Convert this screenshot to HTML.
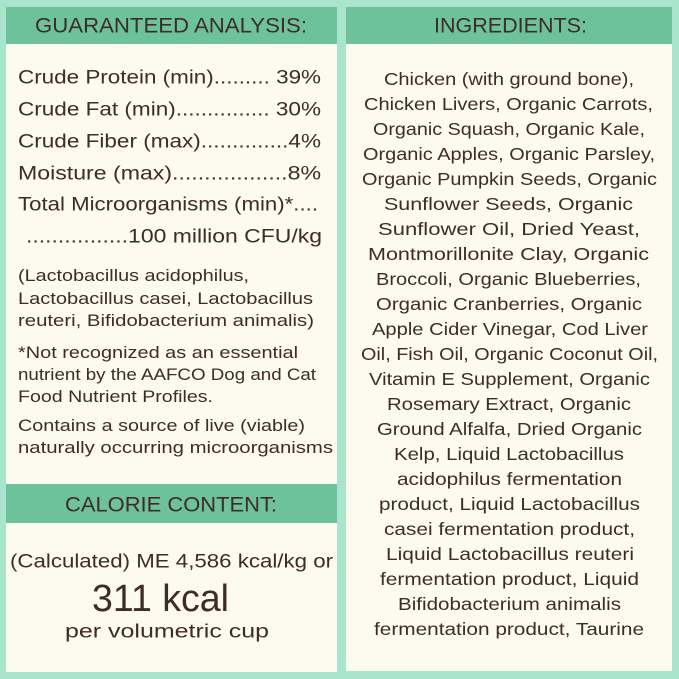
<!DOCTYPE html>
<html><head><meta charset="utf-8"><style>
html,body{margin:0;padding:0;background:#a9e5cc;}
svg{display:block}
text{font-family:"Liberation Sans",sans-serif;fill:#3e2c26;dominant-baseline:central}
</style></head><body>
<svg width="679" height="679" viewBox="0 0 679 679" xmlns="http://www.w3.org/2000/svg">
<rect width="679" height="679" fill="#a9e5cc"/>
<rect x="6" y="7" width="331" height="665" fill="#fdfaf0"/>
<rect x="346" y="7" width="326" height="664" fill="#fdfaf0"/>
<rect x="6" y="7" width="331" height="37" fill="#6dc29c"/>
<rect x="346" y="7" width="326" height="37" fill="#6dc29c"/>
<rect x="6" y="484" width="331" height="39" fill="#6dc29c"/>
<g font-size="21">
<text x="35" y="26" textLength="272" lengthAdjust="spacingAndGlyphs">GUARANTEED ANALYSIS:</text>
<text x="434" y="26" textLength="153" lengthAdjust="spacingAndGlyphs">INGREDIENTS:</text>
<text x="65" y="505" textLength="212" lengthAdjust="spacingAndGlyphs">CALORIE CONTENT:</text>
</g>
<g font-size="19">
<text x="18" y="78" textLength="303" lengthAdjust="spacingAndGlyphs">Crude Protein (min)......... 39%</text>
<text x="18" y="110" textLength="303" lengthAdjust="spacingAndGlyphs">Crude Fat (min)............... 30%</text>
<text x="18" y="142" textLength="303" lengthAdjust="spacingAndGlyphs">Crude Fiber (max)..............4%</text>
<text x="18" y="174" textLength="303" lengthAdjust="spacingAndGlyphs">Moisture (max)..................8%</text>
<text x="18" y="205" textLength="300" lengthAdjust="spacingAndGlyphs">Total Microorganisms (min)*....</text>
<text x="26" y="237" textLength="296" lengthAdjust="spacingAndGlyphs">................100 million CFU/kg</text>
</g>
<g font-size="16.5">
<text x="18" y="276" textLength="231" lengthAdjust="spacingAndGlyphs">(Lactobacillus acidophilus,</text>
<text x="18" y="299" textLength="295" lengthAdjust="spacingAndGlyphs">Lactobacillus casei, Lactobacillus</text>
<text x="18" y="321" textLength="296" lengthAdjust="spacingAndGlyphs">reuteri, Bifidobacterium animalis)</text>
<text x="18" y="353" textLength="280" lengthAdjust="spacingAndGlyphs">*Not recognized as an essential</text>
<text x="18" y="375" textLength="298" lengthAdjust="spacingAndGlyphs">nutrient by the AAFCO Dog and Cat</text>
<text x="18" y="397" textLength="195" lengthAdjust="spacingAndGlyphs">Food Nutrient Profiles.</text>
<text x="18" y="426" textLength="287" lengthAdjust="spacingAndGlyphs">Contains a source of live (viable)</text>
<text x="18" y="448" textLength="315" lengthAdjust="spacingAndGlyphs">naturally occurring microorganisms</text>
</g>
<text x="10" y="562" font-size="19" textLength="323" lengthAdjust="spacingAndGlyphs">(Calculated) ME 4,586 kcal/kg or</text>
<text x="92" y="599" font-size="38" textLength="137" lengthAdjust="spacingAndGlyphs">311 kcal</text>
<text x="65" y="632" font-size="19" textLength="204" lengthAdjust="spacingAndGlyphs">per volumetric cup</text>
<g font-size="17.5">
<text x="384" y="79" textLength="250" lengthAdjust="spacingAndGlyphs">Chicken (with ground bone),</text>
<text x="364" y="104" textLength="289" lengthAdjust="spacingAndGlyphs">Chicken Livers, Organic Carrots,</text>
<text x="373" y="129" textLength="272" lengthAdjust="spacingAndGlyphs">Organic Squash, Organic Kale,</text>
<text x="363" y="154" textLength="292" lengthAdjust="spacingAndGlyphs">Organic Apples, Organic Parsley,</text>
<text x="362" y="179" textLength="295" lengthAdjust="spacingAndGlyphs">Organic Pumpkin Seeds, Organic</text>
<text x="384" y="204" textLength="249" lengthAdjust="spacingAndGlyphs">Sunflower Seeds, Organic</text>
<text x="378" y="229" textLength="262" lengthAdjust="spacingAndGlyphs">Sunflower Oil, Dried Yeast,</text>
<text x="368" y="254" textLength="281" lengthAdjust="spacingAndGlyphs">Montmorillonite Clay, Organic</text>
<text x="376" y="279" textLength="265" lengthAdjust="spacingAndGlyphs">Broccoli, Organic Blueberries,</text>
<text x="376" y="304" textLength="266" lengthAdjust="spacingAndGlyphs">Organic Cranberries, Organic</text>
<text x="372" y="329" textLength="276" lengthAdjust="spacingAndGlyphs">Apple Cider Vinegar, Cod Liver</text>
<text x="361" y="354" textLength="297" lengthAdjust="spacingAndGlyphs">Oil, Fish Oil, Organic Coconut Oil,</text>
<text x="369" y="379" textLength="281" lengthAdjust="spacingAndGlyphs">Vitamin E Supplement, Organic</text>
<text x="387" y="404" textLength="244" lengthAdjust="spacingAndGlyphs">Rosemary Extract, Organic</text>
<text x="377" y="429" textLength="265" lengthAdjust="spacingAndGlyphs">Ground Alfalfa, Dried Organic</text>
<text x="394" y="454" textLength="230" lengthAdjust="spacingAndGlyphs">Kelp, Liquid Lactobacillus</text>
<text x="397" y="479" textLength="225" lengthAdjust="spacingAndGlyphs">acidophilus fermentation</text>
<text x="379" y="504" textLength="261" lengthAdjust="spacingAndGlyphs">product, Liquid Lactobacillus</text>
<text x="384" y="529" textLength="251" lengthAdjust="spacingAndGlyphs">casei fermentation product,</text>
<text x="386" y="554" textLength="248" lengthAdjust="spacingAndGlyphs">Liquid Lactobacillus reuteri</text>
<text x="380" y="579" textLength="259" lengthAdjust="spacingAndGlyphs">fermentation product, Liquid</text>
<text x="398" y="604" textLength="223" lengthAdjust="spacingAndGlyphs">Bifidobacterium animalis</text>
<text x="374" y="629" textLength="270" lengthAdjust="spacingAndGlyphs">fermentation product, Taurine</text>
</g>
</svg>
</body></html>
